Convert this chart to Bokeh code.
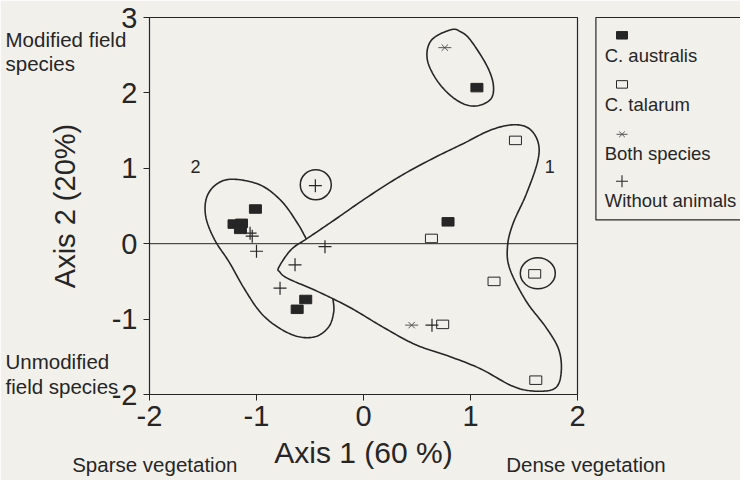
import numpy as np
from bokeh.plotting import figure
from bokeh.layouts import column
from bokeh.models import FixedTicker, Span, Range1d
from bokeh.core.properties import value
from bokeh.embed import file_html
from bokeh.resources import INLINE

# ---------------- data ----------------
x_ticks = [-2, -1, 0, 1, 2]
y_ticks = [-2, -1, 0, 1, 2, 3]
x_tick_labels = ["-2", "-1", "0", "1", "2"]
y_tick_labels = ["-2", "-1", "0", "1", "2", "3"]

australis_x = [1.06, 0.79, -1.01, -1.21, -1.14, -1.15, -0.54, -0.62]
australis_y = [2.07, 0.29, 0.46, 0.26, 0.27, 0.19, -0.74, -0.87]
talarum_x = [1.42, 0.635, 1.60, 1.22, 0.74, 1.61]
talarum_y = [1.37, 0.07, -0.40, -0.50, -1.07, -1.81]
both_x = [0.76, 0.45]
both_y = [2.60, -1.08]
none_x = [-0.45, -1.06, -1.04, -1.00, -0.36, -0.64, -0.78, 0.64]
none_y = [0.77, 0.14, 0.10, -0.10, -0.04, -0.28, -0.59, -1.08]

# hand-drawn group outlines (data units)
group2_x = [-1.223, -0.964, -0.766, -0.614, -0.523, -0.400, -0.309, -0.285, -0.279, -0.325,
            -0.446, -0.614, -0.797, -0.964, -1.117, -1.254, -1.391, -1.473, -1.467, -1.376]
group2_y = [0.855, 0.778, 0.564, 0.265, 0.031, -0.290, -0.546, -0.738, -0.910, -1.103,
            -1.231, -1.231, -1.110, -0.910, -0.590, -0.247, 0.051, 0.351, 0.608, 0.787]
group1_x = [-0.791, -0.675, -0.523, -0.279, 0.026, 0.331, 0.635, 0.940, 1.184, 1.397, 1.549,
            1.634, 1.625, 1.519, 1.397, 1.346, 1.367, 1.519, 1.702, 1.824, 1.848, 1.793,
            1.611, 1.397, 1.092, 0.788, 0.483, 0.178, -0.126, -0.431, -0.706, -0.782]
group1_y = [-0.312, -0.077, 0.073, 0.308, 0.608, 0.885, 1.121, 1.333, 1.505, 1.577, 1.526,
            1.333, 1.077, 0.650, 0.265, -0.033, -0.333, -0.760, -1.103, -1.401, -1.700, -1.914,
            -1.956, -1.892, -1.658, -1.487, -1.337, -1.103, -0.846, -0.632, -0.462, -0.376]
top_x = [0.818, 0.635, 0.596, 0.696, 0.864, 1.031, 1.184, 1.214, 1.153, 1.000, 0.909]
top_y = [2.838, 2.700, 2.445, 2.146, 1.910, 1.825, 1.910, 2.100, 2.360, 2.700, 2.810]
ring_x = [-0.446, 1.629]
ring_y = [0.782, -0.393]
group_label_x = [-1.57, 1.74]
group_label_y = [1.02, 1.02]
group_labels = ["2", "1"]

legend_names = ["C. australis", "C. talarum", "Both species", "Without animals"]
side_texts = ["Modified field", "species", "Unmodified", "field species"]
bottom_texts = ["Sparse vegetation", "Dense vegetation"]

# ---------------- layout / style ----------------
W, H = 740, 480
FL, FR, FT, FB = 149, 577, 17, 394
TXT_DY = 8          # text glyph baseline correction in the overlay (px)
INK = "#262626"
BG = "#f2f0eb"
FONT = "Liberation Sans"


def closed_curve(xs, ys, steps=14):
    px, py = np.asarray(xs, float), np.asarray(ys, float)
    n = len(px)
    ox, oy = [], []
    for i in range(n):
        i0, i1, i2, i3 = (i - 1) % n, i, (i + 1) % n, (i + 2) % n
        for t in np.linspace(0, 1, steps, endpoint=False):
            t2, t3 = t * t, t * t * t
            for arr, out in ((px, ox), (py, oy)):
                out.append(0.5 * (2 * arr[i1] + (-arr[i0] + arr[i2]) * t
                                  + (2 * arr[i0] - 5 * arr[i1] + 4 * arr[i2] - arr[i3]) * t2
                                  + (-arr[i0] + 3 * arr[i1] - 3 * arr[i2] + arr[i3]) * t3))
    ox.append(ox[0]); oy.append(oy[0])
    return ox, oy


p = figure(width=W, height=H, output_backend="svg", toolbar_location=None,
           x_range=Range1d(-2, 2), y_range=Range1d(-2, 3),
           min_border_left=FL, min_border_right=W - FR, min_border_top=FT, min_border_bottom=H - FB,
           background_fill_color=BG, border_fill_color=BG)
p.grid.visible = False
p.outline_line_color = INK
p.outline_line_width = 1.2

for ax, ticks, labels in ((p.xaxis[0], x_ticks, x_tick_labels), (p.yaxis[0], y_ticks, y_tick_labels)):
    ax.ticker = FixedTicker(ticks=ticks)
    ax.major_label_overrides = {t: l for t, l in zip(ticks, labels)}
    ax.minor_tick_line_color = None
    ax.major_tick_out = 6
    ax.major_tick_in = 0
    ax.major_tick_line_color = INK
    ax.axis_line_color = INK
    ax.major_label_text_font = FONT
    ax.major_label_text_font_size = "29px"
    ax.major_label_text_color = INK
    ax.axis_label_text_font = FONT
    ax.axis_label_text_font_style = "normal"
    ax.axis_label_text_color = INK

p.xaxis.axis_label = "Axis 1 (60 %)"
p.yaxis.axis_label = "Axis 2 (20%)"
p.xaxis.axis_label_text_font_size = "30px"
p.yaxis.axis_label_text_font_size = "29px"
p.xaxis.major_label_standoff = 5
p.xaxis.axis_label_standoff = 7
p.yaxis.major_label_standoff = 6
p.yaxis.axis_label_standoff = 28

# outlines
g2x, g2y = closed_curve(group2_x, group2_y)
p.line(g2x, g2y, line_color=INK, line_width=1.6)
g1x, g1y = closed_curve(group1_x, group1_y)
p.patch(g1x, g1y, fill_color=BG, line_color=INK, line_width=1.6)
tx, ty = closed_curve(top_x, top_y)
p.line(tx, ty, line_color=INK, line_width=1.6)
p.ellipse(x=ring_x, y=ring_y, width=[31, 35], height=[30, 31], width_units="screen",
          height_units="screen", fill_color=None, line_color=INK, line_width=1.5)

p.add_layout(Span(location=0, dimension="width", line_color=INK, line_width=1))

# points
p.rect(australis_x, australis_y, width=12, height=8.5, width_units="screen", height_units="screen",
       fill_color=INK, line_color=INK)
p.rect(talarum_x, talarum_y, width=12, height=8.5, width_units="screen", height_units="screen",
       fill_color=None, line_color=INK, line_width=1)
p.scatter(both_x, both_y, marker="x", size=9, line_color="#555555", line_width=1)
p.scatter(both_x, both_y, marker="dash", size=13, line_color="#555555", line_width=1)
p.scatter(none_x, none_y, marker="cross", size=13, line_color=INK, line_width=1.2)

p.text(group_label_x, group_label_y, text=group_labels, text_font=value(FONT),
       text_font_size="18px", text_color=INK, text_align="center", text_baseline="middle")

# ---------------- transparent overlay in page pixels: side texts + legend ----------------
ov = figure(width=W, height=H, output_backend="svg", toolbar_location=None,
            x_range=Range1d(0, W), y_range=Range1d(H, 0),
            x_axis_location=None, y_axis_location=None, min_border=0,
            background_fill_color=None, border_fill_color=None, outline_line_color=None)
ov.grid.visible = False

side_base = [46.9, 71.1, 369.4, 393.6]
ov.text(x=[5] * 4, y=[b - TXT_DY for b in side_base], text=side_texts, text_font=value(FONT),
        text_font_size="20.5px", text_color=INK, text_align="left", text_baseline="alphabetic")
ov.text(x=[71.7, 505.7], y=[472 - TXT_DY] * 2, text=bottom_texts, text_font=value(FONT),
        text_font_size="20.5px", text_color=INK, text_align="left", text_baseline="alphabetic")

# legend box and entries (marker on one line, name below it)
ov.quad(left=[595.4], right=[770], top=[FT], bottom=[219.4], fill_color=None,
        line_color=INK, line_width=1.2)
leg_base = [62.9, 112.3, 161.2, 208.1]
ov.text(x=[604.2] * 4, y=[b - TXT_DY for b in leg_base], text=legend_names, text_font=value(FONT),
        text_font_size="18.5px", text_color=INK, text_align="left", text_baseline="alphabetic")
MX = 621.5
ov.rect([MX], [34.8], width=11, height=7.5, width_units="screen", height_units="screen",
        fill_color=INK, line_color=INK)
ov.rect([MX], [83.9], width=11, height=7.5, width_units="screen", height_units="screen",
        fill_color=None, line_color=INK, line_width=1)
ov.scatter([MX], [133.8], marker="x", size=8, line_color="#555555", line_width=1)
ov.scatter([MX], [133.8], marker="dash", size=11, line_color="#555555", line_width=1)
ov.scatter([MX], [180.7], marker="cross", size=12, line_color=INK, line_width=1.1)

layout = column(p, column(ov, margin=(-H, 0, 0, 0)), spacing=0)
open("out.html", "w").write(file_html(layout, INLINE))
